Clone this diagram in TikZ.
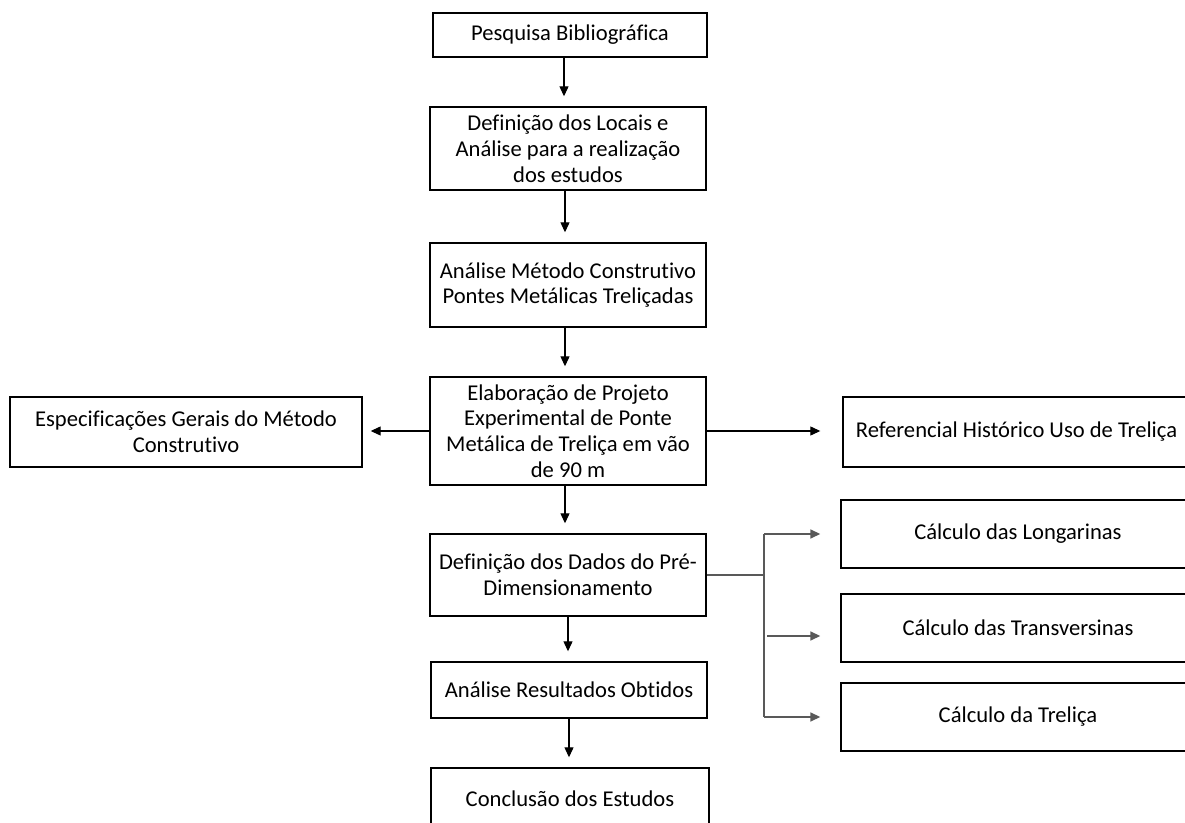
\documentclass[tikz,border=0pt]{standalone}
\usepackage{fontspec}
\setmainfont{Carlito}[Ligatures=NoCommon]
\usetikzlibrary{arrows.meta}

\begin{document}
\begin{tikzpicture}[x=0.5pt,y=-0.5pt,
    box/.style={draw,line width=0.7pt,align=center,inner sep=0pt,
        font=\fontsize{11.3}{12.9}\selectfont},
    arr/.style={-{Triangle[length=5pt,width=4.5pt]},line width=0.6pt,shorten >=5pt},
    link/.style={draw=black!65,line width=0.8pt}]
    \useasboundingbox (0,0) rectangle (1185,823);
    \node[box,minimum width=137pt,minimum height=22pt] (pesq) at (570,35)
        {Pesquisa Bibliográfica};
    \node[box,minimum width=138pt,minimum height=41.5pt] (locais) at (568,148.5)
        {Definição dos Locais e\\Análise para a realização\\dos estudos};
    \node[box,minimum width=138pt,minimum height=42pt] (metodo) at (568,285)
        {Análise Método Construtivo\\Pontes Metálicas Treliçadas};
    \node[box,minimum width=138pt,minimum height=54pt] (proj) at (568,431)
        {Elaboração de Projeto\\Experimental de Ponte\\Metálica de Treliça em vão\\de 90 m};
    \node[box,minimum width=176pt,minimum height=35pt] (espec) at (186,432)
        {Especificações Gerais do Método\\Construtivo};
    \node[box,minimum width=173.5pt,minimum height=35pt] (ref) at (1016.5,432)
        {Referencial Histórico Uso de Treliça};
    \node[box,minimum width=138pt,minimum height=41pt] (dados) at (568,575)
        {Definição dos Dados do Pré-\\Dimensionamento};
    \node[box,minimum width=177pt,minimum height=34pt] (long) at (1018,534)
        {Cálculo das Longarinas};
    \node[box,minimum width=177pt,minimum height=34pt] (trans) at (1018,628)
        {Cálculo das Transversinas};
    \node[box,minimum width=177pt,minimum height=34pt] (trel) at (1018,717)
        {Cálculo da Treliça};
    \node[box,minimum width=138pt,minimum height=28pt] (result) at (569,690)
        {Análise Resultados Obtidos};
    \node[box,minimum width=139pt,minimum height=31pt] (concl) at (570,799)
        {Conclusão dos Estudos};

    \draw[arr] ([xshift=-3pt]pesq.south) -- ([xshift=-3pt]pesq.south |- locais.north);
    \draw[arr] ([xshift=-1.5pt]locais.south) -- ([xshift=-1.5pt]locais.south |- metodo.north);
    \draw[arr] ([xshift=-1.5pt]metodo.south) -- ([xshift=-1.5pt]metodo.south |- proj.north);
    \draw[arr] ([xshift=-1.5pt]proj.south) -- ([xshift=-1.5pt]proj.south |- dados.north);
    \draw[arr] (dados.south) -- (dados.south |- result.north);
    \draw[arr] (result.south) -- (result.south |- concl.north);
    \draw[arr,shorten >=4pt] (proj.west) -- (proj.west -| espec.east);
    \draw[arr,shorten >=11pt] (proj.east) -- (proj.east -| ref.west);

    \coordinate (split) at (764,575);
    \coordinate (splittop) at (764,534);
    \coordinate (splitmid) at (767,636);
    \coordinate (splitbot) at (764,717);
    \draw[link] (dados.east) -- (split);
    \draw[link] (splittop) -- (splitbot);
    \draw[arr,link,shorten >=10pt] (splittop) -- (long.west);
    \draw[arr,link,shorten >=10pt] (splitmid) -- ([yshift=-4pt]trans.west);
    \draw[arr,link,shorten >=10pt] (splitbot) -- (trel.west);
\end{tikzpicture}
\end{document}
